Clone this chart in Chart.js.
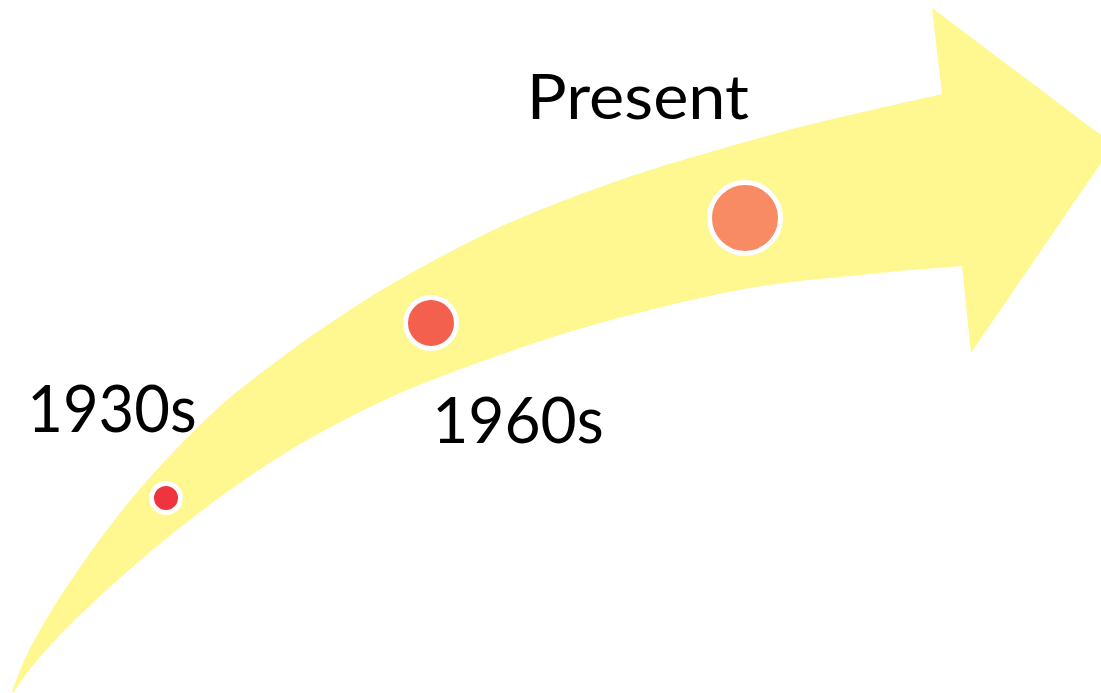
<!DOCTYPE html>
<html>
<head>
<meta charset="utf-8">
<script src="https://cdn.jsdelivr.net/npm/chart.js@4.4.1/dist/chart.umd.min.js"></script>
<style>
  html, body { margin: 0; padding: 0; background: #ffffff; }
  #wrap { width: 1101px; height: 693px; position: relative; }
</style>
</head>
<body>
<div id="wrap"><canvas id="c"></canvas></div>
<script>
// ---- data ----
const eras = ['1930s', '1960s', 'Present'];
const eraX = [166, 431, 745];
const eraY = [498, 323, 218];
const eraSize = [14.5, 25.5, 35.5];

// outline of the curved arrow (upper edge, head, lower edge back); corners repeated to stay sharp
const arrowX = [12, 12, 23, 40, 60, 83, 107, 133, 163, 200, 233, 300, 367, 433, 500, 550, 600, 650, 700, 800, 942, 942,
                932, 932, 1101, 1101, 1101, 1101, 971, 971, 962, 962,
                900, 850, 800, 750, 700, 650, 600, 550, 500, 450, 400, 350, 300, 250, 200, 150, 100, 60, 30, 14, 14];
const arrowY = [692, 692, 663, 630, 597, 563, 530, 497, 463, 425, 395, 344, 299, 261, 227, 206, 187, 170, 155, 127, 94, 94,
                8, 8, 135, 135, 163, 163, 353, 353, 266, 266,
                271, 276, 281, 288, 298, 310, 323, 338, 355, 373, 393, 417, 444, 476, 512, 552, 596, 635, 669, 692, 692];

const eraColors = ['#EF343D', '#F4604E', '#F88B63'];

const labelPlugin = {
  id: 'eraLabels',
  afterDatasetsDraw(chart, args, opts) {
    const ctx = chart.ctx;
    const xs = chart.scales.x, ys = chart.scales.y;
    ctx.save();
    ctx.fillStyle = '#000000';
    ctx.textBaseline = 'alphabetic';
    ctx.textAlign = 'left';
    eras.forEach((t, i) => {
      const L = opts.layout[i];
      const px = xs.getPixelForValue(eraX[i]) + L.dx;
      const py = ys.getPixelForValue(eraY[i]) + L.dy;
      ctx.font = opts.size + 'px ' + opts.family;
      const m = ctx.measureText(t);
      const inkW = m.actualBoundingBoxLeft + m.actualBoundingBoxRight;
      const inkH = m.actualBoundingBoxAscent;
      const sx = L.w / inkW, sy = L.h / inkH;
      ctx.save();
      ctx.translate(px, py);
      ctx.scale(sx, sy);
      ctx.fillText(t, m.actualBoundingBoxLeft, 0);
      ctx.restore();
    });
    ctx.restore();
  }
};

new Chart(document.getElementById('c'), {
  type: 'bubble',
  data: {
    datasets: [
      {
        type: 'line',
        label: 'arrow',
        data: arrowX.map((x, i) => ({ x: x, y: arrowY[i] })),
        fill: 'shape',
        backgroundColor: '#FFF78F',
        borderColor: 'rgba(0,0,0,0)',
        borderWidth: 0,
        pointRadius: 0,
        tension: 0.3,
        order: 2
      },
      {
        type: 'bubble',
        label: 'eras',
        data: eraX.map((x, i) => ({ x: x, y: eraY[i], r: eraSize[i] })),
        backgroundColor: eraColors,
        borderColor: '#FFFFFF',
        borderWidth: 5,
        order: 1
      }
    ]
  },
  options: {
    responsive: true,
    maintainAspectRatio: false,
    animation: false,
    events: [],
    layout: { padding: 0, autoPadding: false },
    scales: {
      x: { type: 'linear', min: 0, max: 1101, display: false },
      y: { type: 'linear', min: 0, max: 693, reverse: true, display: false }
    },
    plugins: {
      legend: { display: false },
      tooltip: { enabled: false },
      eraLabels: {
        family: 'Lato',
        size: 64,
        layout: [
          { dx: -134, dy: -66, w: 163, h: 48 },
          { dx: 6, dy: 120, w: 165, h: 47 },
          { dx: -213, dy: -99, w: 217, h: 45 }
        ]
      }
    }
  },
  plugins: [labelPlugin]
});
</script>
</body>
</html>
